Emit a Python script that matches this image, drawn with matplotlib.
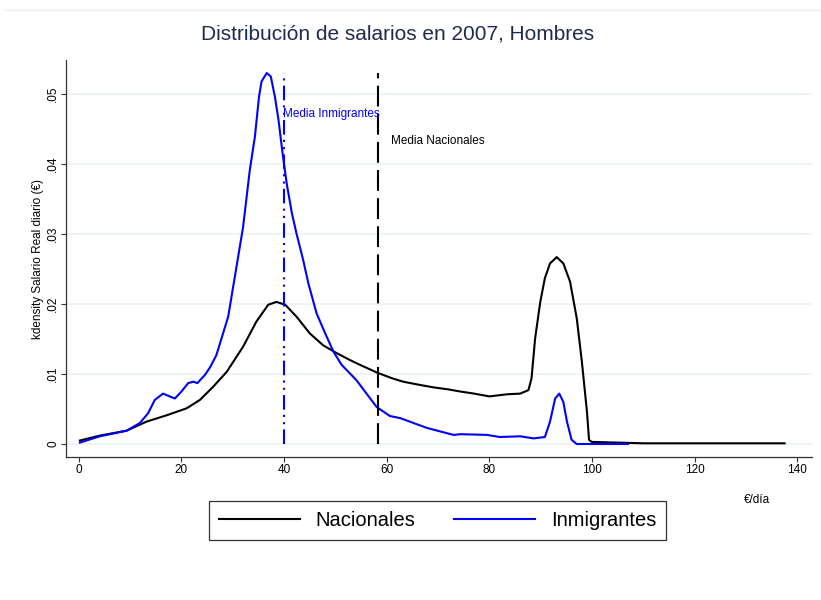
import matplotlib
matplotlib.use("Agg")
import matplotlib.pyplot as plt
from matplotlib.lines import Line2D

plt.rcParams['font.family'] = ['Liberation Sans', 'DejaVu Sans']

# Nacionales density (x = €/día, y = density)
nac_x = [0.2, 4.1, 9.3, 13.2, 17.1, 21, 23.6, 26.2, 28.8, 32, 34.6, 36.9, 38.5, 40.2,
         42.4, 45, 47.6, 50.2, 52.8, 54.8, 58.1, 61, 63.2, 66, 69, 72, 74.3, 77, 80,
         83.4, 86, 87.6, 88.2, 88.9, 89.9, 90.8, 91.8, 93.1, 94.4, 95.7, 97, 98, 99,
         99.4, 99.9, 110, 137.5]
nac_y = [0.0005, 0.0012, 0.0019, 0.0032, 0.0041, 0.0051, 0.0063, 0.0082, 0.0103, 0.0139,
         0.0175, 0.0199, 0.0203, 0.0199, 0.0182, 0.0158, 0.0141, 0.013, 0.012, 0.0113,
         0.0102, 0.0094, 0.0089, 0.0085, 0.0081, 0.0078, 0.0075, 0.0072, 0.0068, 0.0071,
         0.0072, 0.0077, 0.0094, 0.0151, 0.0203, 0.0237, 0.0258, 0.0267, 0.0258, 0.0232,
         0.018, 0.0118, 0.0046, 0.0006, 0.0003, 0.0001, 0.0001]

# Inmigrantes density
inm_x = [0.2, 4.1, 9.3, 11.9, 13.5, 14.8, 16.4, 17.7, 18.7, 20, 21.3, 22.3, 23.1, 24.6,
         25.6, 26.8, 29.1, 31.05, 32, 33.3, 34.3, 35.1, 35.6, 36.6, 37.4, 38.2, 38.9,
         39.7, 40.5, 41.5, 42.4, 43.7, 44.7, 46.3, 48, 49.6, 51.2, 52.8, 54.1, 58, 60.6,
         62.6, 67.8, 73, 74.3, 79.5, 82, 86, 88.6, 90.8, 91.8, 92.8, 93.6, 94.4, 95.1,
         96, 97, 107]
inm_y = [0.0002, 0.0011, 0.0019, 0.003, 0.0044, 0.0063, 0.0072, 0.0068, 0.0065, 0.0075,
         0.0087, 0.0089, 0.0087, 0.0099, 0.011, 0.0127, 0.0182, 0.0268, 0.031, 0.0391,
         0.0439, 0.0496, 0.0518, 0.053, 0.0525, 0.0496, 0.0463, 0.0415, 0.0372, 0.033,
         0.0301, 0.0263, 0.023, 0.0187, 0.0158, 0.0132, 0.0113, 0.0101, 0.0091, 0.0053,
         0.004, 0.0037, 0.0023, 0.0013, 0.0014, 0.0013, 0.001, 0.0011, 0.0008, 0.001,
         0.0032, 0.0065, 0.0072, 0.006, 0.0032, 0.0006, 0.0, 0.0]

media_inm = 39.9
media_nac = 58.2
line_top = 0.053

xticks = [0, 20, 40, 60, 80, 100, 120, 140]
yticks = [0, 0.01, 0.02, 0.03, 0.04, 0.05]
ytick_labels = ['0', '.01', '.02', '.03', '.04', '.05']

fig = plt.figure(figsize=(8.21, 6), dpi=100)
ax = fig.add_axes([0.0804, 0.2383, 0.909, 0.6617])

for y in yticks:
    ax.axhline(y, color='#eaf2f3', lw=1.2, zorder=0)

ax.plot(nac_x, nac_y, color='black', lw=1.5, label='Nacionales')
ax.plot(inm_x, inm_y, color='#0000ff', lw=1.5, label='Inmigrantes')

ax.vlines(media_inm, 0, line_top, color='#0000ff', lw=1.5,
          linestyles=[(0, (7, 2.5, 1, 2.5, 1, 2.5))])
ax.vlines(media_nac, 0, line_top, color='black', lw=1.5,
          linestyles=[(0, (10, 3.5))])

ax.text(media_inm - 0.2, 0.0471, 'Media Inmigrantes', color='#0000ff',
        fontsize=8.5, va='center', ha='left')
ax.text(media_nac + 2.6, 0.0433, 'Media Nacionales', color='black',
        fontsize=8.5, va='center', ha='left')

ax.set_xlim(-2.5, 142.9)
ax.set_ylim(-0.00186, 0.05486)
ax.set_xticks(xticks)
ax.set_xticklabels([str(t) for t in xticks], fontsize=8.5)
ax.set_yticks(yticks)
ax.set_yticklabels(ytick_labels, fontsize=8.5, rotation=90, va='center')
ax.tick_params(direction='out', length=3.5, width=0.8, color='#333333', pad=1.5)

for s in ['top', 'right']:
    ax.spines[s].set_visible(False)
for s in ['left', 'bottom']:
    ax.spines[s].set_color('#333333')
    ax.spines[s].set_linewidth(0.9)

ax.set_ylabel('kdensity Salario Real diario (€)', fontsize=8.5, labelpad=2)
fig.text(0.922, 0.167, '€/día', fontsize=8.5, ha='center', va='center')

fig.text(0.484, 0.944, 'Distribución de salarios en 2007, Hombres', fontsize=15,
         color='#1e2b50', ha='center', va='center')

# faint graph-region border line at the top
fig.add_artist(Line2D([0.006, 1.0], [0.983, 0.983], color='#e8eeee', lw=1))

handles = [Line2D([], [], color='black', lw=1.5), Line2D([], [], color='#0000ff', lw=1.5)]
leg = fig.legend(handles, ['Nacionales', 'Inmigrantes'], loc='center',
                 bbox_to_anchor=(0.533, 0.133), ncol=2, fontsize=14.5,
                 frameon=True, fancybox=False, edgecolor='black',
                 handlelength=4.0, columnspacing=1.9, borderpad=0.5)
leg.get_frame().set_linewidth(0.9)

fig.savefig('out.png', dpi=100)
